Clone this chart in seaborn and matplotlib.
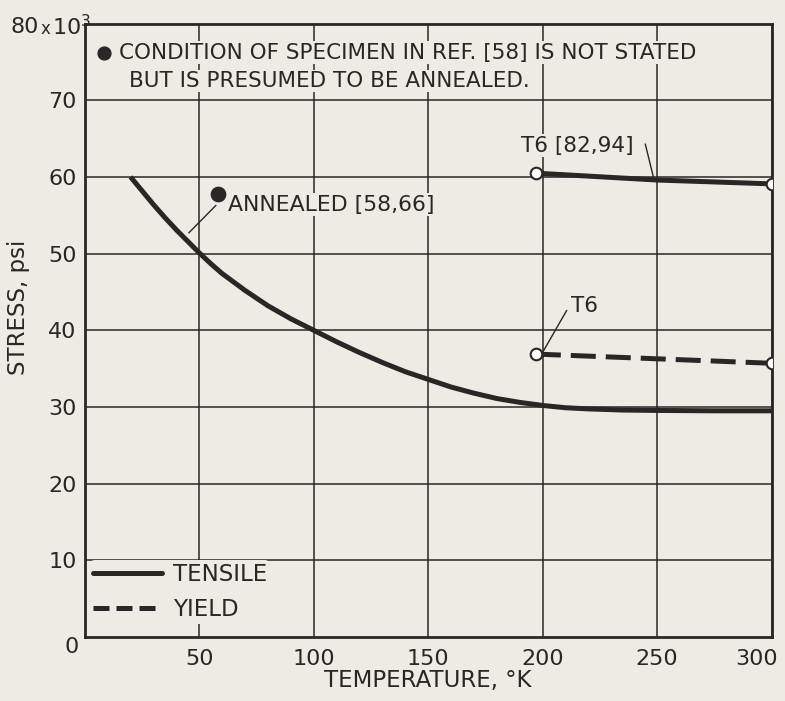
import numpy as np
import pandas as pd
import matplotlib
matplotlib.use("Agg")
import matplotlib.pyplot as plt
import matplotlib.transforms as mtransforms
from matplotlib.lines import Line2D
import seaborn as sns

# ---- data ----
annealed_temp = [20, 25, 30, 35, 40, 45, 50, 55, 60, 70, 80, 90, 100, 110, 120, 130,
                 140, 150, 160, 170, 180, 190, 200, 210, 220, 235, 250, 275, 300]
annealed_tensile = [60.0, 58.2, 56.4, 54.7, 53.1, 51.6, 50.1, 48.7, 47.4, 45.2, 43.2,
                    41.5, 40.0, 38.5, 37.1, 35.8, 34.6, 33.6, 32.6, 31.8, 31.1, 30.6,
                    30.2, 29.9, 29.75, 29.6, 29.55, 29.5, 29.5]
t6_temp = [197, 250, 300]
t6_tensile = [60.5, 59.6, 59.1]
t6_yield_temp = [197, 300]
t6_yield = [36.9, 35.7]
ref58_point = (58, 57.8)
x_ticks = [50, 100, 150, 200, 250, 300]
y_ticks = [10, 20, 30, 40, 50, 60, 70, 80]
y_tick_labels = ["10", "20", "30", "40", "50", "60", "70", ""]

BG = "#ecebe4"
INK = "#2b2626"

sns.set_theme(style="white")
plt.rcParams["font.family"] = ["DejaVu Sans"]
plt.rcParams["text.color"] = INK
plt.rcParams["axes.labelcolor"] = INK
plt.rcParams["xtick.color"] = INK
plt.rcParams["ytick.color"] = INK

fig = plt.figure(figsize=(7.85, 7.01), dpi=100, facecolor=BG)
ax = fig.add_axes([0.108, 0.0913, 0.875, 0.875])
ax.set_facecolor(BG)

df_a = pd.DataFrame({"T": annealed_temp, "S": annealed_tensile})
df_t6 = pd.DataFrame({"T": t6_temp, "S": t6_tensile})
df_y6 = pd.DataFrame({"T": t6_yield_temp, "S": t6_yield})

LW = 3.6
sns.lineplot(data=df_a, x="T", y="S", ax=ax, color=INK, lw=LW, sort=False,
             legend=False, zorder=4, solid_capstyle="butt")
sns.lineplot(data=df_t6, x="T", y="S", ax=ax, color=INK, lw=LW, sort=False,
             legend=False, zorder=4)
sns.lineplot(data=df_y6, x="T", y="S", ax=ax, color=INK, lw=LW, sort=False,
             legend=False, zorder=4)
ax.lines[-1].set_dashes((5, 2.0))

ends = pd.DataFrame({"T": [t6_temp[0], t6_temp[-1], t6_yield_temp[0], t6_yield_temp[-1]],
                     "S": [t6_tensile[0], t6_tensile[-1], t6_yield[0], t6_yield[-1]]})
sns.scatterplot(data=ends, x="T", y="S", ax=ax, s=70, facecolor="white",
                edgecolor=INK, linewidth=1.5, zorder=6, legend=False)
sns.scatterplot(x=[ref58_point[0]], y=[ref58_point[1]], ax=ax, s=110, color=INK,
                edgecolor=INK, zorder=6, legend=False)

ax.set_xlim(0, 300)
ax.set_ylim(0, 80)
ax.set_xticks(x_ticks)
ax.set_xticklabels([str(v) for v in x_ticks])
ax.set_yticks(y_ticks)
ax.set_yticklabels(y_tick_labels)
ax.tick_params(axis="both", length=0, labelsize=16)
ax.tick_params(axis="x", pad=9)
ax.tick_params(axis="y", pad=6)
# shift the last x label left, as in the reference
lab = ax.get_xticklabels()[-1]
lab.set_transform(lab.get_transform() + mtransforms.ScaledTranslation(-15 / 100, 0, fig.dpi_scale_trans))

ax.text(-0.019, -0.017, "0", transform=ax.transAxes, ha="center", va="center", fontsize=16)
fig.text(10 / 785, 1 - 27 / 701, "80", ha="left", va="center", fontsize=16)
fig.text(41 / 785, 1 - 29 / 701, "x", ha="left", va="center", fontsize=12)
fig.text(52 / 785, 1 - 27 / 701, "10$^{3}$", ha="left", va="center", fontsize=16)

ax.grid(True, color=INK, lw=1.1)
for sp in ax.spines.values():
    sp.set_color(INK)
    sp.set_linewidth(2.0)
    sp.set_visible(True)

ax.set_xlabel("TEMPERATURE, °K", fontsize=16.5, labelpad=0)
ax.set_ylabel("STRESS, psi", fontsize=16.5)
ax.yaxis.set_label_coords(-0.080, 0.538)

# note
ax.scatter([8.3], [76.2], s=85, color=INK, zorder=6)
bb = dict(facecolor=BG, edgecolor="none", pad=1.0)
ax.text(14.8, 76.2, "CONDITION OF SPECIMEN IN REF. [58] IS NOT STATED", fontsize=15.5,
        va="center", ha="left", bbox=bb, zorder=5)
ax.text(19.3, 72.5, "BUT IS PRESUMED TO BE ANNEALED.", fontsize=15.5,
        va="center", ha="left", bbox=bb, zorder=5)

# annotations
ax.text(62.6, 56.4, "ANNEALED [58,66]", fontsize=15.8, va="center", ha="left",
        bbox=dict(facecolor=BG, edgecolor="none", pad=1), zorder=5)
ax.plot([57.3, 45.4], [56.3, 52.7], color=INK, lw=1.0, zorder=5)

ax.text(190.5, 64.1, "T6 [82,94]", fontsize=15.5, va="center", ha="left",
        bbox=dict(facecolor=BG, edgecolor="none", pad=1), zorder=5)
ax.plot([244.8, 248.5], [64.3, 59.8], color=INK, lw=1.0, zorder=5)

ax.text(212.5, 43.2, "T6", fontsize=15.5, va="center", ha="left",
        bbox=dict(facecolor=BG, edgecolor="none", pad=1), zorder=5)
ax.plot([210.5, 200.3], [42.6, 37.3], color=INK, lw=1.0, zorder=5)

handles = [Line2D([0], [0], color=INK, lw=LW),
           Line2D([0], [0], color=INK, lw=LW, dashes=(3.2, 1.4))]
leg = ax.legend(handles, ["TENSILE", "YIELD"], loc="lower left",
                bbox_to_anchor=(0.008, 0.022), frameon=True, fontsize=16.5,
                handlelength=3.05, handletextpad=0.45, labelspacing=0.55,
                borderpad=0.1, borderaxespad=0)
leg.get_frame().set_facecolor(BG)
leg.get_frame().set_edgecolor("none")
leg.get_frame().set_alpha(1)
leg.set_zorder(7)

fig.savefig("out.png", dpi=100, facecolor=BG)
